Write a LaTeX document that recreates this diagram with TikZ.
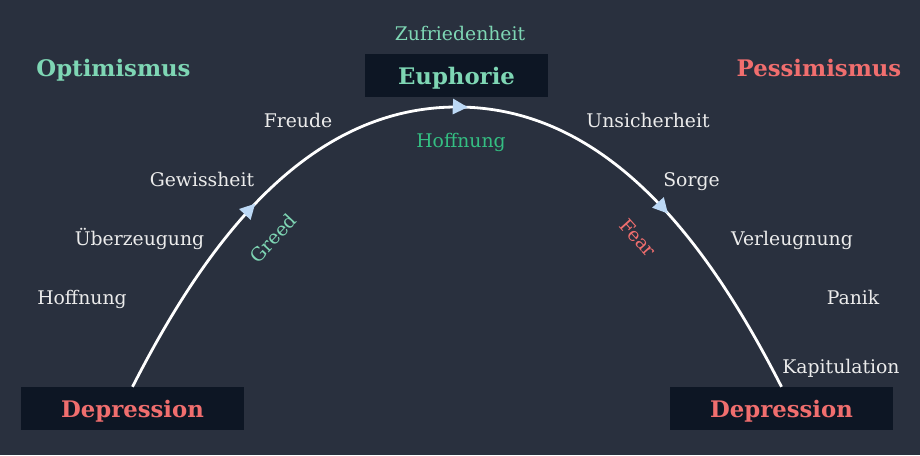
\documentclass[tikz,border=0pt]{standalone}
\usepackage{fontspec}
\setmainfont{DejaVu Serif}
\usetikzlibrary{arrows.meta,decorations.markings}

\definecolor{bgcol}{HTML}{29303E}
\definecolor{boxcol}{HTML}{0D1624}
\definecolor{mint}{HTML}{7ED6B4}
\definecolor{hopegreen}{HTML}{34BE82}
\definecolor{salmon}{HTML}{F06E6E}
\definecolor{phasecol}{HTML}{EBEBEB}
\definecolor{tipblue}{HTML}{BCD8F5}

\newcommand{\curvetip}{\arrow[tipblue]{Triangle[length=15pt,width=15pt]}}

\tikzset{
  stage/.style={fill=boxcol, inner sep=0pt, minimum height=43pt, text depth=0pt,
    font=\fontsize{22.8}{27}\selectfont\bfseries},
  mood/.style={anchor=base, font=\fontsize{22.8}{27}\selectfont\bfseries},
  phase/.style={anchor=base, text=phasecol, font=\fontsize{18.8}{22}\selectfont}
}

\begin{document}
\begin{tikzpicture}[x=1pt,y=-1pt]

\fill[bgcol] (0,0) rectangle (920,455);
\useasboundingbox (0,0) rectangle (920,455);

% boxes
\node[stage, minimum width=183pt, text=mint] (euph) at (456.5,75.5) {Euphorie};
\node[stage, minimum width=223pt, text=salmon] (depl) at (132.5,408.5) {Depression};
\node[stage, minimum width=223pt, text=salmon] (depr) at (781.5,408.5) {Depression};

\node[mood, text=mint] (opt) at (113.5,76) {Optimismus};
\node[mood, text=salmon] (pess) at (819,76) {Pessimismus};

\node[phase, text=mint] (zuf) at (460,40) {Zufriedenheit};
\node[phase, text=hopegreen] (hoffm) at (461,147) {Hoffnung};

% rising side
\node[phase] (freu) at (298,127) {Freude};
\node[phase] (gewi) at (202,186) {Gewissheit};
\node[phase] (ueber) at (139.5,245) {Überzeugung};
\node[phase] (hoffl) at (82,304) {Hoffnung};

% falling side
\node[phase] (unsi) at (648,127) {Unsicherheit};
\node[phase] (sorg) at (691.5,186) {Sorge};
\node[phase] (verl) at (792,245) {Verleugnung};
\node[phase] (pani) at (853,304) {Panik};
\node[phase] (kapi) at (841,373) {Kapitulation};

\node[text=mint, rotate=47, font=\fontsize{18.8}{22}\selectfont] (greed) at (273,238) {Greed};
\node[text=salmon, rotate=-48, font=\fontsize{18.8}{22}\selectfont] (fear) at (638,238) {Fear};

\coordinate (peak) at (457,107);

\draw[white, line width=2.8pt, postaction={decorate},
  decoration={markings,
    mark=at position 0.245 with {\curvetip},
    mark=at position 0.512 with {\curvetip},
    mark=at position 0.77 with {\curvetip}}]
  (depl.north) .. controls (200,255) and (300,107) .. (peak)
  .. controls (614,107) and (714,255) .. (depr.north);

\end{tikzpicture}
\end{document}
